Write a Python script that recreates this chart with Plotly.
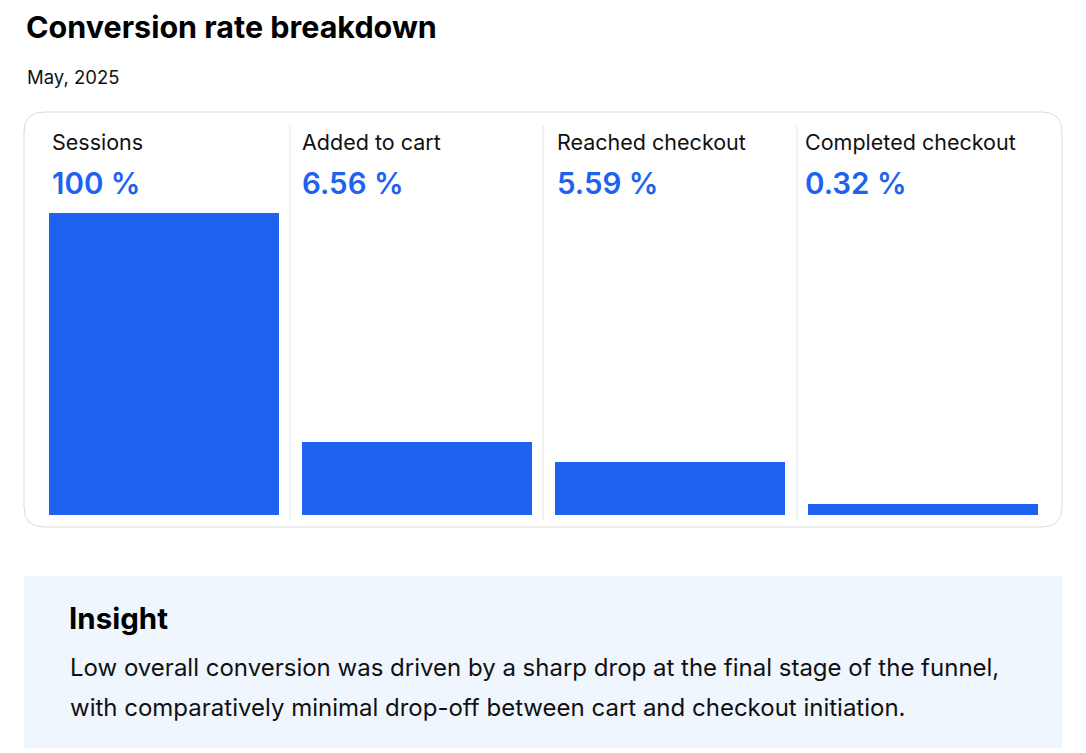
import plotly.graph_objects as go

# The page body has an 8px margin, so the figure is shrunk and coordinates offset.
OFF = 8
W, H = 1086 - OFF, 753 - OFF

stages = ["Sessions", "Added to cart", "Reached checkout", "Completed checkout"]
rate_labels = ["100 %", "6.56 %", "5.59 %", "0.32 %"]
bar_heights = [100, 24.2, 17.5, 3.6]

title = "Conversion rate breakdown"
subtitle = "May, 2025"
insight_title = "Insight"
insight_lines = [
    "Low overall conversion was driven by a sharp drop at the final stage of the funnel,",
    "with comparatively minimal drop-off between cart and checkout initiation.",
]

BLUE = "#1E62F0"
FONT = "Inter"


def px(x):
    return (x - OFF - 1) / W


def py(y):
    return 1 - (y - OFF) / H


fig = go.Figure()
fig.add_trace(go.Bar(
    x=list(range(len(stages))),
    y=bar_heights,
    width=230 / 253,
    marker=dict(color=BLUE, line=dict(width=0)),
    hoverinfo="skip",
))

shapes = []
x0, x1, y0, y1, r = 25, 1063, 112, 527, 20
path = (
    f"M {px(x0 + r)} {py(y0)} L {px(x1 - r)} {py(y0)} "
    f"Q {px(x1)} {py(y0)} {px(x1)} {py(y0 + r)} "
    f"L {px(x1)} {py(y1 - r)} "
    f"Q {px(x1)} {py(y1)} {px(x1 - r)} {py(y1)} "
    f"L {px(x0 + r)} {py(y1)} "
    f"Q {px(x0)} {py(y1)} {px(x0)} {py(y1 - r)} "
    f"L {px(x0)} {py(y0 + r)} "
    f"Q {px(x0)} {py(y0)} {px(x0 + r)} {py(y0)} Z"
)
shapes.append(dict(type="path", xref="paper", yref="paper", path=path,
                   line=dict(color="#DADADA", width=1), fillcolor="rgba(0,0,0,0)", layer="below"))
for dx in [291, 544, 798]:
    shapes.append(dict(type="line", xref="paper", yref="paper",
                       x0=px(dx), x1=px(dx), y0=py(126), y1=py(519),
                       line=dict(color="#E3E3E3", width=1)))
shapes.append(dict(type="rect", xref="paper", yref="paper",
                   x0=px(25), x1=px(1063), y0=py(576), y1=py(748),
                   fillcolor="#EFF6FE", line=dict(width=0), layer="below"))

annotations = []


def add_text(text, x, y, size, color="#111111", weight="normal", family=FONT):
    annotations.append(dict(
        text=text, x=px(x), y=py(y), xref="paper", yref="paper",
        xanchor="left", yanchor="middle", showarrow=False,
        font=dict(family=family, size=size, color=color, weight=weight),
    ))


add_text(title, 25, 27, 30.5, "#000000", "bold")
add_text(subtitle, 26, 77, 18.5, "#111111")

label_x = [51, 301, 556, 804]
for i, name in enumerate(stages):
    add_text(name, label_x[i], 142, 21.5, "#111111")
    add_text(rate_labels[i], label_x[i], 183, 29.5, BLUE, 600)

add_text(insight_title, 68, 618, 29.5, "#000000", "bold")
add_text(insight_lines[0], 69, 667, 24, "#111111")
add_text(insight_lines[1], 69, 707, 24, "#111111")

fig.update_layout(
    width=W, height=H,
    margin=dict(l=0, r=0, t=0, b=0),
    paper_bgcolor="white", plot_bgcolor="rgba(0,0,0,0)",
    showlegend=False,
    bargap=0,
    xaxis=dict(domain=[px(37.5), px(1049.5)], range=[-0.5, 3.5],
               showgrid=False, zeroline=False, showticklabels=False, fixedrange=True),
    yaxis=dict(domain=[py(515), py(213)], range=[0, 100],
               showgrid=False, zeroline=False, showticklabels=False, fixedrange=True),
    shapes=shapes,
    annotations=annotations,
)

fig.write_html("out.html", config={"displayModeBar": False})
